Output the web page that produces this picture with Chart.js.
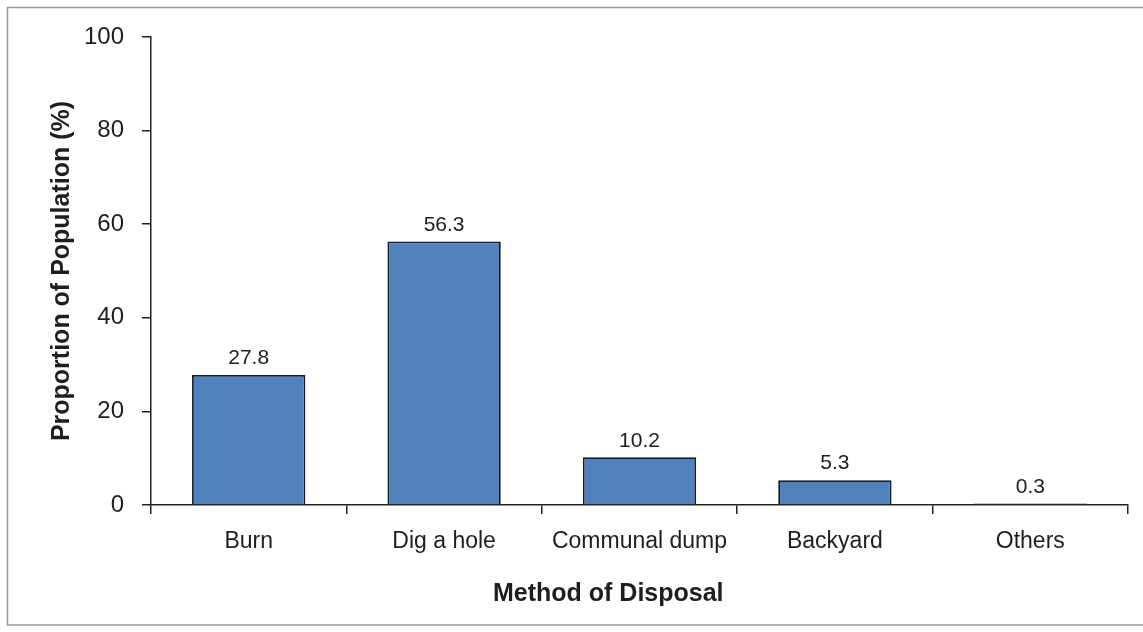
<!DOCTYPE html>
<html>
<head>
<meta charset="utf-8">
<script src="https://cdn.jsdelivr.net/npm/chart.js@4/dist/chart.umd.min.js"></script>
<style>
  html, body { margin: 0; padding: 0; background: #fff; }
  #wrap { width: 1143px; height: 632px; }
</style>
</head>
<body>
<div id="wrap"><canvas id="c" width="1143" height="632"></canvas></div>
<script>
const categories = ['Burn', 'Dig a hole', 'Communal dump', 'Backyard', 'Others'];
const values = [27.8, 56.3, 10.2, 5.3, 0.3];
const yTicks = [0, 20, 40, 60, 80, 100];
const yTitle = 'Proportion of Population (%)';
const xTitle = 'Method of Disposal';

const FONT = "'Liberation Sans', Arial, sans-serif";
const TEXT = '#1e1e1e';
const AXIS = '#222222';

const frame = {
  id: 'frame',
  beforeDraw(chart) {
    const ctx = chart.ctx;
    ctx.save();
    ctx.fillStyle = '#ffffff';
    ctx.fillRect(0, 0, chart.width, chart.height);
    ctx.strokeStyle = '#9a9a9a';
    ctx.lineWidth = 1.5;
    ctx.strokeRect(7.5, 7.5, 1150, 617.5);
    ctx.restore();
  }
};

const valueLabels = {
  id: 'valueLabels',
  afterDatasetsDraw(chart) {
    const ctx = chart.ctx;
    const meta = chart.getDatasetMeta(0);
    ctx.save();
    ctx.font = '21px ' + FONT;
    ctx.fillStyle = TEXT;
    ctx.textAlign = 'center';
    ctx.textBaseline = 'bottom';
    meta.data.forEach((bar, i) => {
      ctx.fillText(String(values[i]), bar.x, bar.y - 6);
    });
    ctx.restore();
  }
};

new Chart(document.getElementById('c'), {
  type: 'bar',
  data: {
    labels: categories,
    datasets: [{
      data: values,
      backgroundColor: '#4F81BD',
      borderColor: '#141a26',
      borderWidth: 1.8,
      barPercentage: 0.58,
      categoryPercentage: 1.0
    }]
  },
  options: {
    responsive: false,
    animation: false,
    devicePixelRatio: 1,
    layout: { padding: { top: 37, right: 15, bottom: 0, left: 0 } },
    plugins: { legend: { display: false }, tooltip: { enabled: false } },
    scales: {
      x: {
        afterFit(scale) { scale.height = 127; },
        grid: { offset: true, drawOnChartArea: false, drawTicks: true, tickLength: 9, color: AXIS, lineWidth: 1.5 },
        border: { display: true, color: AXIS, width: 1.5 },
        ticks: { color: TEXT, font: { family: FONT, size: 23 }, padding: 14, maxRotation: 0, autoSkip: false },
        title: { display: true, text: xTitle + '\u00a0'.repeat(9), color: TEXT, font: { family: FONT, size: 25, weight: 'bold' }, padding: { top: 0, bottom: 23 } }
      },
      y: {
        min: 0, max: 100,
        afterFit(scale) { scale.width = 151; },
        afterBuildTicks(scale) { scale.ticks = yTicks.map(v => ({ value: v })); },
        grid: { drawOnChartArea: false, drawTicks: true, tickLength: 9, color: AXIS, lineWidth: 1.5 },
        border: { display: true, color: AXIS, width: 1.5 },
        ticks: { color: TEXT, font: { family: FONT, size: 24 }, padding: 18 },
        title: { display: true, text: yTitle, color: TEXT, font: { family: FONT, size: 25, weight: 'bold' }, padding: { top: 47, bottom: 0 } }
      }
    }
  },
  plugins: [frame, valueLabels]
});
</script>
</body>
</html>
